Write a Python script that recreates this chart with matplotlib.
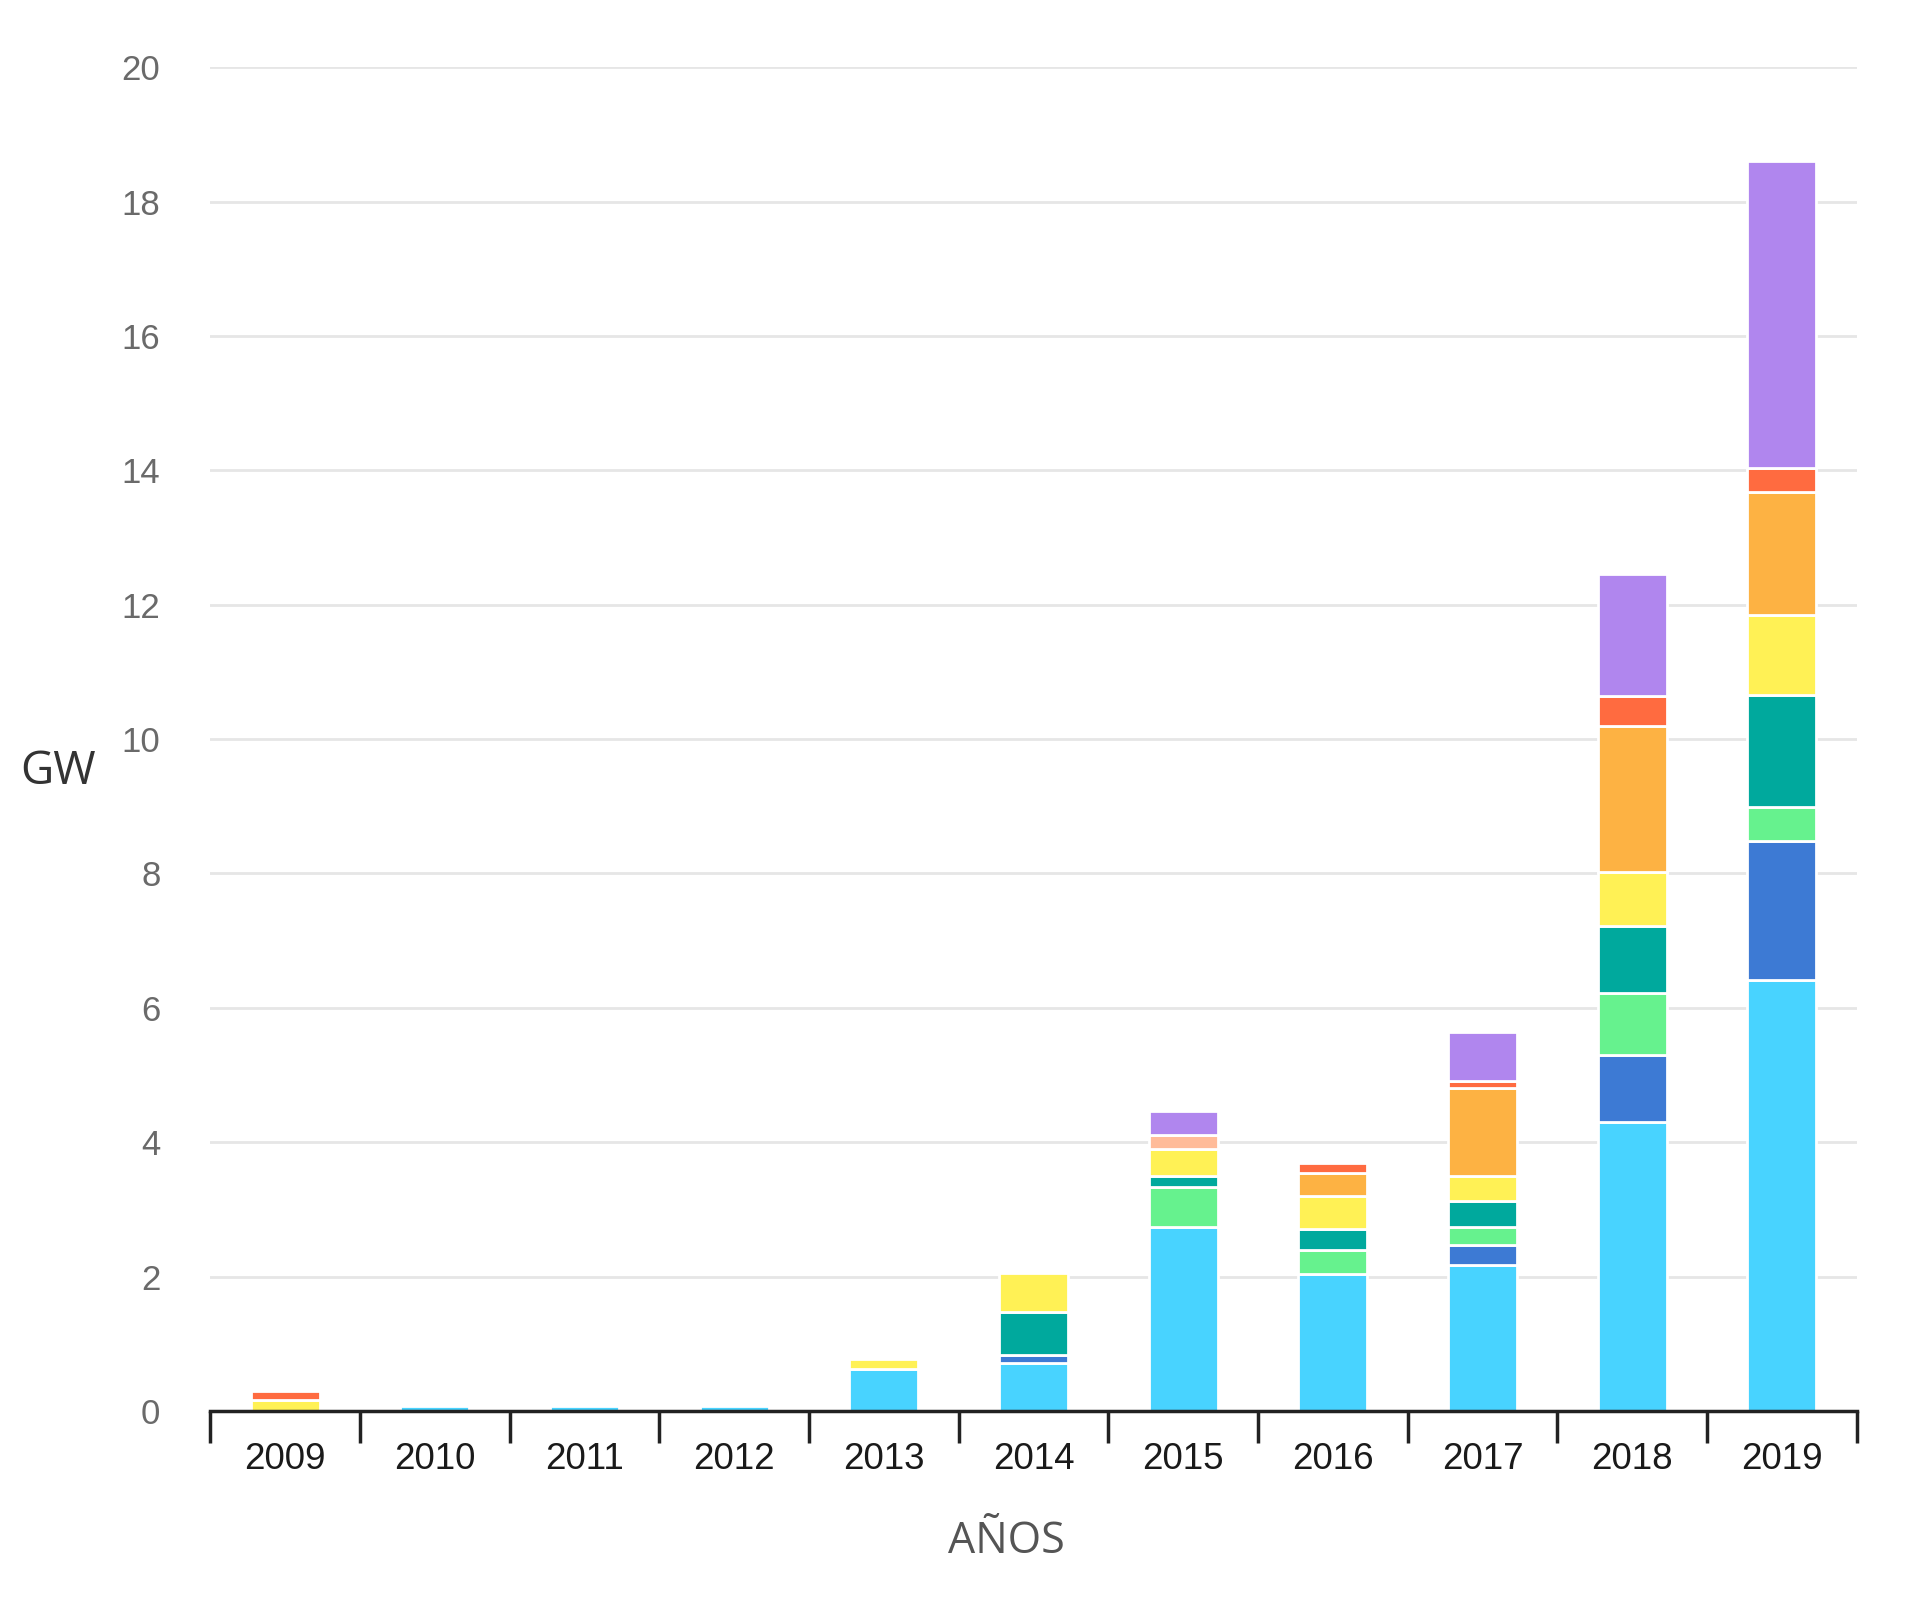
import numpy as np
import matplotlib.pyplot as plt

years = ["2009", "2010", "2011", "2012", "2013", "2014", "2015", "2016", "2017", "2018", "2019"]

# GW per year, stacked bottom to top
light_blue = [0.00, 0.07, 0.07, 0.07, 0.63, 0.71, 2.74, 2.04, 2.17, 4.30, 6.42]
blue = [0.00, 0.00, 0.00, 0.00, 0.00, 0.12, 0.00, 0.00, 0.30, 1.00, 2.06]
green = [0.00, 0.00, 0.00, 0.00, 0.00, 0.00, 0.60, 0.36, 0.27, 0.92, 0.51]
teal = [0.00, 0.00, 0.00, 0.00, 0.00, 0.64, 0.15, 0.31, 0.39, 1.00, 1.67]
yellow = [0.17, 0.00, 0.00, 0.00, 0.15, 0.58, 0.41, 0.49, 0.36, 0.80, 1.18]
orange = [0.00, 0.00, 0.00, 0.00, 0.00, 0.00, 0.00, 0.34, 1.31, 2.18, 1.84]
peach = [0.00, 0.00, 0.00, 0.00, 0.00, 0.00, 0.20, 0.00, 0.00, 0.00, 0.00]
red = [0.12, 0.00, 0.00, 0.00, 0.00, 0.00, 0.00, 0.15, 0.11, 0.44, 0.36]
purple = [0.00, 0.00, 0.00, 0.00, 0.00, 0.00, 0.36, 0.00, 0.73, 1.82, 4.57]

series = [light_blue, blue, green, teal, yellow, orange, peach, red, purple]
colors = ["#48D3FF", "#3D7AD4", "#66F28E", "#00A99D", "#FFF155",
          "#FDB243", "#FFBB99", "#FF6B40", "#B086EE"]

fig = plt.figure(figsize=(19.2, 16.01), dpi=100)
ax = fig.add_axes([0.1096, 0.1187, 0.8574, 0.8393])

x = np.arange(len(years))
bottom = np.zeros(len(years))
for vals, col in zip(series, colors):
    vals = np.array(vals)
    keep = vals > 0
    ax.bar(x[keep], vals[keep], bottom=bottom[keep], width=0.46,
           color=col, edgecolor="white", linewidth=2)
    bottom += vals

ax.set_xlim(-0.5, len(years) - 0.5)
ax.set_ylim(0, 20)
ax.set_yticks(range(0, 21, 2))
ax.set_axisbelow(True)
ax.yaxis.grid(True, color="#e6e6e6", linewidth=2)

for s in ["top", "right", "left"]:
    ax.spines[s].set_visible(False)
ax.spines["bottom"].set_color("#222222")
ax.spines["bottom"].set_linewidth(2.5)

# category boundaries carry the tick marks
ax.set_xticks(np.arange(-0.5, len(years), 1.0))
ax.set_xticklabels([])
ax.set_xticks(x, minor=True)
ax.set_xticklabels(years, minor=True, fontsize=26.5, color="#1a1a1a",
                   family="Liberation Sans")
ax.tick_params(axis="x", which="major", length=23, width=2.5, color="#222222")
ax.tick_params(axis="x", which="minor", length=0, pad=22)
ax.tick_params(axis="y", length=0, pad=36, labelsize=25, labelcolor="#6a6a6a")
for lab in ax.get_yticklabels():
    lab.set_family("Liberation Sans")

fig.text(0.030, 0.518, "GW", fontsize=33, color="#333333", family="Open Sans",
         ha="center", va="center")
fig.text(0.524, 0.037, "AÑOS", fontsize=31, color="#555555", family="Open Sans",
         ha="center", va="center")

fig.savefig("out.png", dpi=100)
